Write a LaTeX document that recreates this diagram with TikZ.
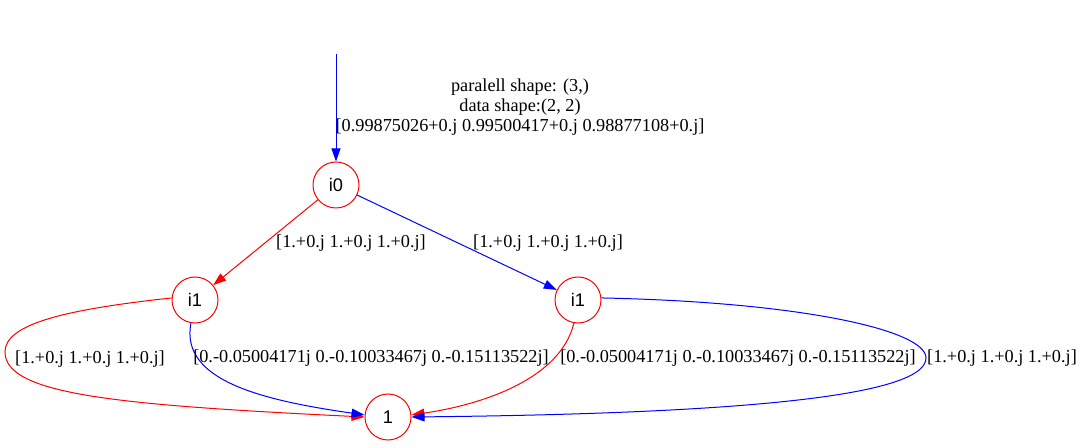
\documentclass[tikz,border=0pt]{standalone}
\usepackage{fontspec}
\setmainfont{Liberation Serif}
\newfontfamily\nodefont{Liberation Sans}
\usetikzlibrary{arrows.meta}
\tikzstyle{state}=[draw=red, line width=0.75pt, circle, inner sep=0, minimum size=34.5pt, font=\nodefont\fontsize{13.7pt}{15pt}\selectfont]
\tikzstyle{elabel}=[inner sep=0, align=center, font=\fontsize{13.7pt}{15pt}\selectfont]
\tikzstyle{redge}=[draw=red, line width=0.75pt, -{Triangle[length=9.75pt, width=6.75pt, fill=red]}]
\tikzstyle{bedge}=[draw=blue, line width=0.75pt, -{Triangle[length=9.75pt, width=6.75pt, fill=blue]}]
\tikzstyle{statediagram}=[x=0.75pt, y=-0.75pt]

\begin{document}
\begin{tikzpicture}[statediagram]
        \useasboundingbox (0, 0) rectangle (1084, 448);
        \coordinate (S) at (336, 54);
        \node[state] (N0) at (336, 185) {i0};
        \node[state] (N1) at (195, 300) {i1};
        \node[state] (N2) at (578, 300) {i1};
        \node[state] (N3) at (388, 417) {1};
        \draw[bedge] (S) -- (N0);
        \draw[redge] (N0) -- (N1);
        \draw[bedge] (N0) -- (N2);
        \draw[redge] (N1.175) .. controls (60, 310) and (5, 325) .. (5, 352)
                              .. controls (5, 395) and (120, 405) .. (N3.180);
        \draw[bedge] (N1.260) .. controls (180, 380) and (260, 400) .. (N3.175);
        \draw[redge] (N2.260) .. controls (560, 380) and (480, 405) .. (N3.5);
        \draw[bedge] (N2.5) .. controls (800, 302) and (926, 330) .. (926, 358)
                            .. controls (926, 400) and (700, 414) .. (N3.0);
        \node[elabel] (L0) at (520, 107) {paralell shape: (3,)\\data shape:(2, 2)\\{[0.99875026+0.j 0.99500417+0.j 0.98877108+0.j]}};
        \node[elabel] (L1) at (351, 243) {[1.+0.j 1.+0.j 1.+0.j]};
        \node[elabel] (L2) at (548, 243) {[1.+0.j 1.+0.j 1.+0.j]};
        \node[elabel] (L3) at (90, 359) {[1.+0.j 1.+0.j 1.+0.j]};
        \node[elabel] (L4) at (371, 358) {[0.-0.05004171j 0.-0.10033467j 0.-0.15113522j]};
        \node[elabel] (L5) at (738, 358) {[0.-0.05004171j 0.-0.10033467j 0.-0.15113522j]};
        \node[elabel] (L6) at (1002, 358) {[1.+0.j 1.+0.j 1.+0.j]};
    \end{tikzpicture}
\end{document}
